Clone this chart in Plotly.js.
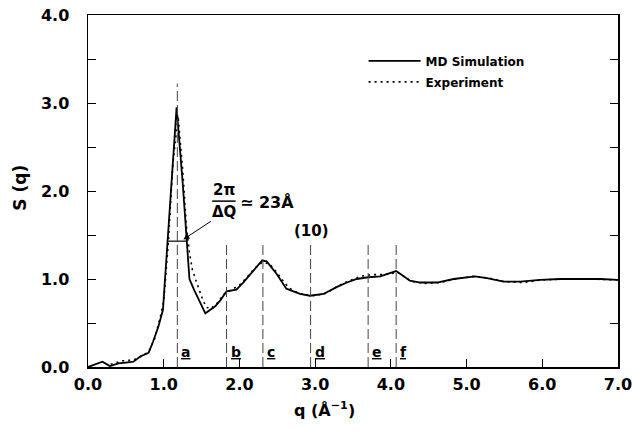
<!DOCTYPE html>
<html>
<head>
<meta charset="utf-8">
<script src="https://cdn.plot.ly/plotly-3.0.1.min.js"></script>
<style>html,body{margin:0;padding:0;background:#fff;}</style>
</head>
<body>
<div id="chart" style="width:633px;height:435px;"></div>
<script>
// MD simulation S(q)
const mdQ = [0.00, 0.10, 0.19, 0.29, 0.40, 0.50, 0.60, 0.69, 0.80, 0.86, 0.93, 0.99, 1.05, 1.10, 1.17, 1.25, 1.30, 1.34, 1.40, 1.48, 1.55, 1.68, 1.75, 1.83, 1.90, 1.96, 2.05, 2.14, 2.22, 2.30, 2.36, 2.42, 2.49, 2.62, 2.80, 2.93, 3.11, 3.29, 3.42, 3.55, 3.70, 3.86, 3.97, 4.07, 4.17, 4.25, 4.39, 4.52, 4.61, 4.83, 5.11, 5.27, 5.49, 5.71, 5.97, 6.24, 6.50, 6.76, 7.00];
const mdS = [0.00, 0.03, 0.06, 0.01, 0.04, 0.05, 0.06, 0.12, 0.16, 0.29, 0.46, 0.65, 1.40, 2.12, 2.95, 2.10, 1.42, 1.00, 0.88, 0.74, 0.61, 0.69, 0.76, 0.86, 0.875, 0.88, 0.96, 1.05, 1.13, 1.21, 1.20, 1.14, 1.06, 0.89, 0.83, 0.81, 0.83, 0.91, 0.96, 1.00, 1.02, 1.03, 1.06, 1.09, 1.03, 0.98, 0.96, 0.96, 0.96, 1.00, 1.03, 1.01, 0.97, 0.97, 0.99, 1.00, 1.00, 1.00, 0.99];
// Experiment S(q)
const expQ = [0.30, 0.45, 0.60, 0.70, 0.80, 0.88, 0.95, 1.00, 1.06, 1.12, 1.19, 1.25, 1.30, 1.34, 1.38, 1.44, 1.50, 1.56, 1.62, 1.70, 1.80, 1.90, 2.00, 2.10, 2.20, 2.30, 2.40, 2.50, 2.60, 2.70, 2.85, 3.00, 3.15, 3.30, 3.45, 3.60, 3.75, 3.90, 4.00, 4.08, 4.17, 4.28, 4.45, 4.65, 4.85, 5.10, 5.30, 5.50, 5.75, 6.00, 6.30, 6.60, 7.00];
const expS = [0.03, 0.07, 0.08, 0.12, 0.17, 0.32, 0.55, 0.75, 1.40, 2.30, 2.85, 2.25, 1.60, 1.30, 1.10, 0.95, 0.80, 0.68, 0.66, 0.72, 0.83, 0.88, 0.93, 1.02, 1.12, 1.19, 1.17, 1.07, 0.95, 0.87, 0.82, 0.81, 0.84, 0.92, 0.98, 1.03, 1.05, 1.05, 1.06, 1.08, 1.03, 0.97, 0.95, 0.96, 1.00, 1.03, 1.01, 0.97, 0.96, 0.99, 1.00, 1.00, 0.99];
// Peak-width marker (FWHM)
const fwhmQ = [1.06, 1.30];
const fwhmS = [1.43, 1.43];
// Marked positions
const markLabels = ['a', 'b', 'c', 'd', 'e', 'f'];
const markQ = [1.18, 1.83, 2.31, 2.94, 3.70, 4.07];
const markTop = [3.22, 1.43, 1.43, 1.43, 1.43, 1.43];
// Axis ticks
const xTickVals = [0, 1, 2, 3, 4, 5, 6, 7];
const xTickText = ['0.0', '1.0', '2.0', '3.0', '4.0', '5.0', '6.0', '7.0'];
const yTickVals = [0, 1, 2, 3, 4];
const yTickText = ['0.0', '1.0', '2.0', '3.0', '4.0'];

const FONT = 'DejaVu Sans, sans-serif';

const traces = [
  {x: mdQ, y: mdS, mode: 'lines', name: '<b>MD Simulation</b>', line: {color: '#000', width: 1.8}, legendgroup: 'g1'},
  {x: expQ, y: expS, mode: 'lines', name: '<b>Experiment</b>', line: {color: '#000', width: 1.6, dash: '2px,4px'}, legendgroup: 'g2'},
  {x: fwhmQ, y: fwhmS, mode: 'lines', showlegend: false, line: {color: '#000', width: 1.2}}
];

const shapes = markQ.map((q, i) => ({
  type: 'line', xref: 'x', yref: 'y', x0: q, x1: q, y0: 0, y1: markTop[i],
  line: {color: '#444', width: 1, dash: '10px,4px'}
}));
// fraction bar
shapes.push({type: 'line', xref: 'x', yref: 'y', x0: 1.64, x1: 1.95, y0: 1.885, y1: 1.885, line: {color: '#000', width: 1.5}});

const annotations = markLabels.map((t, i) => ({
  x: markQ[i], y: 0.17, xref: 'x', yref: 'y', text: '<b><u>' + t + '</u></b>',
  showarrow: false, xanchor: 'left', xshift: 2, font: {family: FONT, size: 14, color: '#000'}
}));
annotations.push(
  {x: 2.95, y: 1.55, xref: 'x', yref: 'y', text: '<b>(10)</b>', showarrow: false, font: {family: FONT, size: 15, color: '#000'}},
  {x: 1.79, y: 2.01, xref: 'x', yref: 'y', text: '<b>2π</b>', showarrow: false, font: {family: FONT, size: 15, color: '#000'}},
  {x: 1.26, y: 1.45, xref: 'x', yref: 'y', text: '<b>ΔQ</b>', showarrow: true, arrowhead: 2, arrowsize: 1.2, arrowwidth: 1, arrowcolor: '#000',
   ax: 41, ay: -27, font: {family: FONT, size: 15, color: '#000'}},
  {x: 1.98, y: 1.875, xref: 'x', yref: 'y', text: '<b>≃ 23Å</b>', showarrow: false, xanchor: 'left', font: {family: FONT, size: 16, color: '#000'}},
  {x: -0.128, y: 0.51, xref: 'paper', yref: 'paper', xanchor: 'center', yanchor: 'middle', text: '<b>S (q)</b>', textangle: -90, showarrow: false, font: {family: FONT, size: 17, color: '#000'}},
  {x: 0.447, y: -0.122, xref: 'paper', yref: 'paper', xanchor: 'center', yanchor: 'middle', text: '<b>q (Å<sup>−1</sup>)</b>', showarrow: false, font: {family: FONT, size: 16, color: '#000'}}
);

const layout = {
  width: 633, height: 435,
  margin: {l: 88, r: 15, t: 15, b: 68},
  paper_bgcolor: '#fff', plot_bgcolor: '#fff',
  showlegend: true,
  legend: {x: 0.52, y: 0.911, xanchor: 'left', yanchor: 'top', bgcolor: 'rgba(0,0,0,0)', tracegroupgap: 2, itemwidth: 52,
           font: {family: FONT, size: 12, color: '#000'}},
  xaxis: {range: [0, 7], tickvals: xTickVals, ticktext: xTickText, ticks: 'inside', ticklen: 8, tickwidth: 1, tickcolor: '#000',
          showline: true, linecolor: '#000', linewidth: 1.5, mirror: true, showgrid: false, zeroline: false,
          ticklabelstandoff: 2, tickfont: {family: FONT, size: 16, color: '#000', weight: 'bold'}},
  yaxis: {range: [0, 4], tickvals: yTickVals, ticktext: yTickText, ticks: 'inside', ticklen: 8, tickwidth: 1, tickcolor: '#000',
          minor: {dtick: 0.5, ticks: 'inside', ticklen: 8, tickwidth: 1, tickcolor: '#000', showgrid: false},
          showline: true, linecolor: '#000', linewidth: 1.5, mirror: 'allticks', showgrid: false, zeroline: false,
          ticklabelstandoff: 14, tickfont: {family: FONT, size: 16, color: '#000', weight: 'bold'}},
  shapes: shapes,
  annotations: annotations
};

Plotly.newPlot('chart', traces, layout, {displayModeBar: false, staticPlot: true});
</script>
</body>
</html>
